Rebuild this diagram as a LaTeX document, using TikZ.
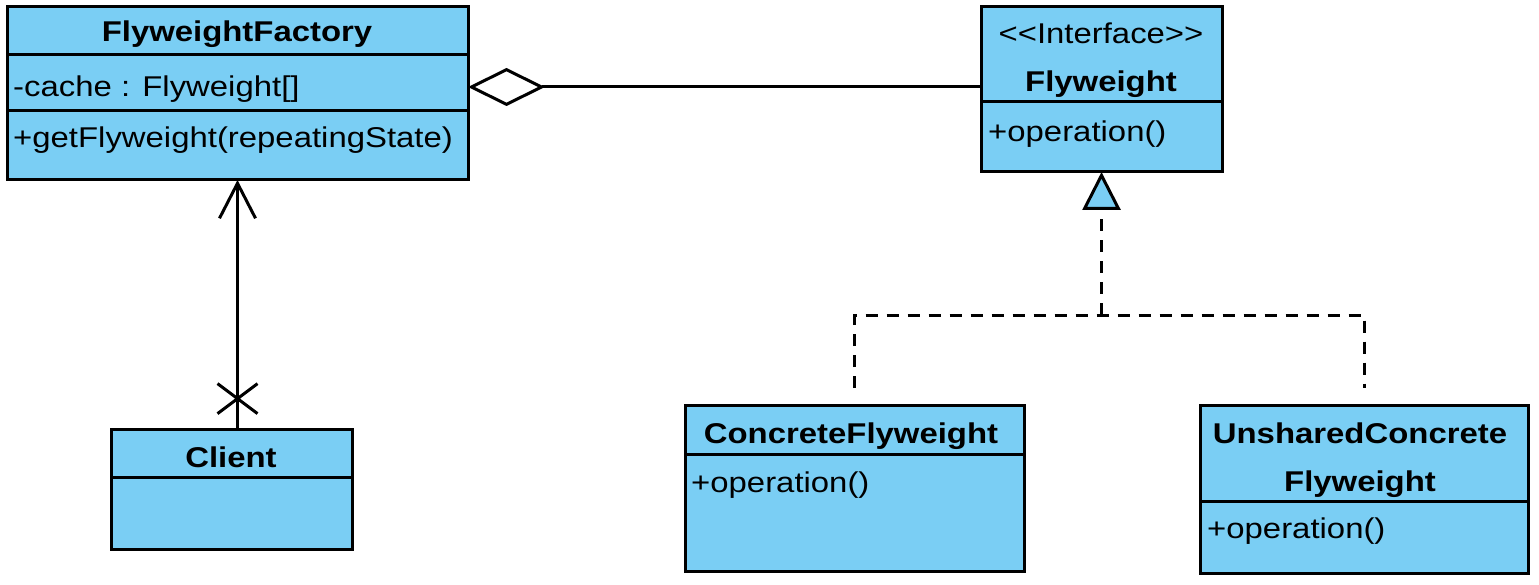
\documentclass[tikz,border=0pt]{standalone}
\usepackage{fontspec}
\setmainfont{Liberation Sans}[FakeStretch=1.15]
\usepackage{xcolor}
\usetikzlibrary{positioning,shapes,arrows.meta}
\definecolor{umlblue}{RGB}{122,206,244}

\begin{document}
\begin{tikzpicture}[
  x=1pt, y=-1pt,
  font=\fontsize{28.6}{34}\selectfont,
  box/.style={rectangle, draw, line width=3pt, fill=umlblue, inner sep=0pt, outer sep=0pt},
  clsname/.style={anchor=base, inner sep=0pt, font=\fontsize{28.6}{34}\selectfont\bfseries},
  member/.style={anchor=base west, inner sep=0pt},
  conn/.style={line width=3pt},
  realize/.style={line width=3pt, dash pattern=on 12pt off 9pt},
  xmark/.style={cross out, draw, line width=3pt, minimum width=37pt, minimum height=27pt, inner sep=0pt}
]
  \useasboundingbox (0,0) rectangle (1539,585);

  % FlyweightFactory
  \node[box, minimum width=461pt, minimum height=48pt] (factory) at (237.5,31) {};
  \node[box, minimum width=461pt, minimum height=56pt, below=0pt of factory] (factoryattr) {};
  \node[box, minimum width=461pt, minimum height=69pt, below=0pt of factoryattr] (factoryops) {};
  \node[clsname] (factorytitle) at (237,42) {FlyweightFactory};
  \node[member] (cachetext) at (13,97) {-cache : Flyweight[]};
  \node[member] (getfwtext) at (13,148) {+getFlyweight(repeatingState)};

  % Flyweight interface
  \node[box, minimum width=241pt, minimum height=95pt] (fly) at (1101.5,54.5) {};
  \node[box, minimum width=241pt, minimum height=70pt, below=0pt of fly] (flyops) {};
  \node[anchor=base, inner sep=0pt] (flystereo) at (1101,44) {<{}<Interface>{}>};
  \node[clsname] (flytitle) at (1101,92) {Flyweight};
  \node[member] (flyoptext) at (988,142) {+operation()};

  % Client
  \node[box, minimum width=241pt, minimum height=48pt] (client) at (231.5,453) {};
  \node[box, minimum width=241pt, minimum height=72pt, below=0pt of client] (clientbody) {};
  \node[clsname] (clienttitle) at (231,467) {Client};

  % ConcreteFlyweight
  \node[box, minimum width=339pt, minimum height=49pt] (concrete) at (854.5,429.5) {};
  \node[box, minimum width=339pt, minimum height=117pt, below=0pt of concrete] (concreteops) {};
  \node[clsname] (concretetitle) at (851,443) {ConcreteFlyweight};
  \node[member] (concreteoptext) at (691,492) {+operation()};

  % UnsharedConcreteFlyweight
  \node[box, minimum width=328pt, minimum height=96pt] (unshared) at (1364,453) {};
  \node[box, minimum width=328pt, minimum height=72pt, below=0pt of unshared] (unsharedops) {};
  \node[clsname] (unsharedtitle) at (1360,443) {UnsharedConcrete};
  \node[clsname] (unsharedtitle2) at (1360,491) {Flyweight};
  \node[member] (unsharedoptext) at (1207,538) {+operation()};

  % connectors
  \draw[conn, -{Straight Barb[length=35pt, width=36pt]}] (factoryops.south |- client.north)
    -- node[xmark, pos=0.122] (navx) {} (factoryops.south);
  \draw[conn, {Diamond[open, length=77pt, width=38pt]}-] ([yshift=-4pt]factoryattr.east)
    -- ([yshift=-4pt]factoryattr.east -| fly.west);

  \coordinate (fork) at (flyops.south |- 0,315);
  \draw[realize, -{Triangle[length=38pt, width=38pt, fill=umlblue]}] (fork) -- (flyops.south);
  \draw[realize] ([yshift=17pt]concrete.north) |- (fork) -| ([yshift=17pt]unshared.north);
\end{tikzpicture}
\end{document}
